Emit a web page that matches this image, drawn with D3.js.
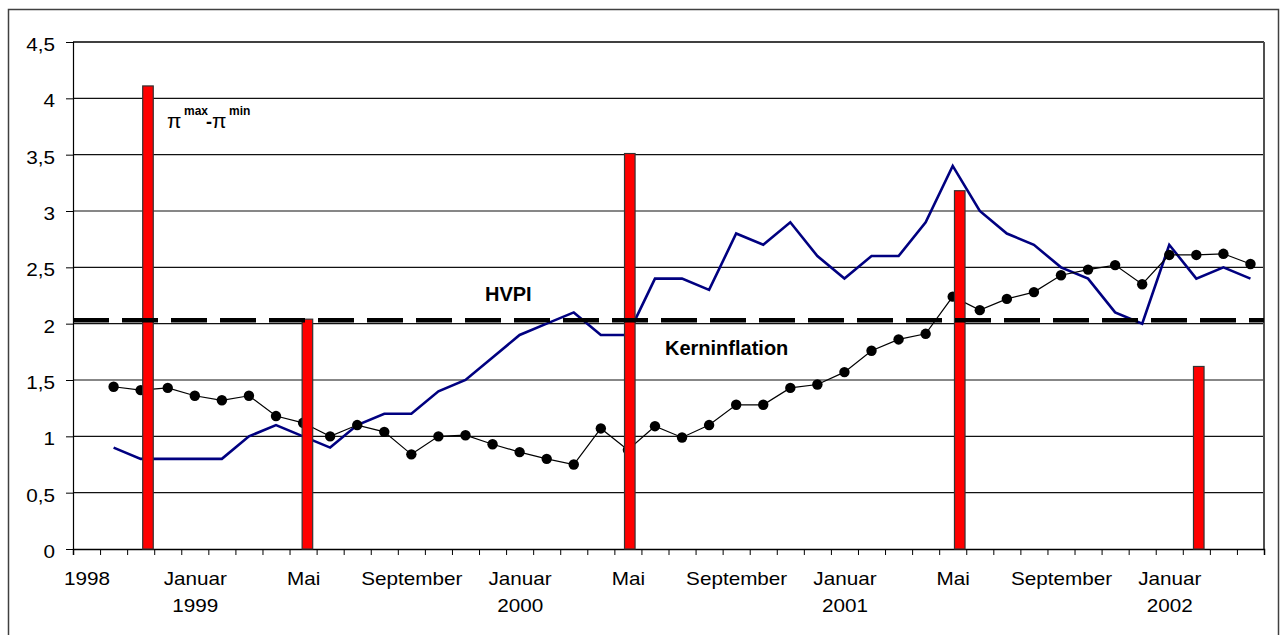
<!DOCTYPE html>
<html>
<head>
<meta charset="utf-8">
<script src="https://cdn.jsdelivr.net/npm/d3@7"></script>
<style>
  html, body { margin: 0; padding: 0; background: #fff; }
  svg { display: block; }
  text { font-family: "Liberation Sans", Arial, sans-serif; fill: #000; }
</style>
</head>
<body>
<svg id="chart" width="1285" height="635"></svg>
<script>
// Monthly categories, September 1998 – April 2002
const categories = [
  "1998-09","1998-10","1998-11","1998-12",
  "1999-01","1999-02","1999-03","1999-04","1999-05","1999-06","1999-07","1999-08","1999-09","1999-10","1999-11","1999-12",
  "2000-01","2000-02","2000-03","2000-04","2000-05","2000-06","2000-07","2000-08","2000-09","2000-10","2000-11","2000-12",
  "2001-01","2001-02","2001-03","2001-04","2001-05","2001-06","2001-07","2001-08","2001-09","2001-10","2001-11","2001-12",
  "2002-01","2002-02","2002-03","2002-04"
];
// HVPI (blue line)
const hvpi = [null, 0.9, 0.8, 0.8, 0.8, 0.8, 1.0, 1.1, 1.0, 0.9, 1.1, 1.2, 1.2, 1.4, 1.5, 1.7,
  1.9, 2.0, 2.1, 1.9, 1.9, 2.4, 2.4, 2.3, 2.8, 2.7, 2.9, 2.6, 2.4, 2.6, 2.6, 2.9,
  3.4, 3.0, 2.8, 2.7, 2.5, 2.4, 2.1, 2.0, 2.7, 2.4, 2.5, 2.4];
// Kerninflation (black line with dots)
const kern = [null, 1.44, 1.41, 1.43, 1.36, 1.32, 1.36, 1.18, 1.12, 1.0, 1.1, 1.04, 0.84, 1.0, 1.01, 0.93,
  0.86, 0.80, 0.75, 1.07, 0.88, 1.09, 0.99, 1.10, 1.28, 1.28, 1.43, 1.46, 1.57, 1.76, 1.86, 1.91,
  2.24, 2.12, 2.22, 2.28, 2.43, 2.48, 2.52, 2.35, 2.61, 2.61, 2.62, 2.53];
// pi_max - pi_min bars: position in months since Sep 1998, and value
const barMonth = [2.77, 8.66, 20.57, 32.76, 41.59];
const barValue = [4.11, 2.04, 3.51, 3.18, 1.62];
// 2% reference line
const targetValue = [2.03];
// axis labels
const yTicks = [0, 0.5, 1, 1.5, 2, 2.5, 3, 3.5, 4, 4.5];
const xLabelCats = ["1998-09","1999-01","1999-05","1999-09","2000-01","2000-05","2000-09","2001-01","2001-05","2001-09","2002-01"];
const xLabelText = ["1998","Januar\n1999","Mai","September","Januar\n2000","Mai","September","Januar\n2001","Mai","September","Januar\n2002"];
const annotations = [{text: "HVPI"}, {text: "Kerninflation"}];

const svg = d3.select("#chart");
const L = 73, R = 1264, T = 42, B = 549;
const SX = 1.15, FS = 18;

const x = d3.scaleLinear().domain([0, categories.length]).range([L, R]);
const y = d3.scaleLinear().domain([0, 4.5]).range([B, T]);

// outer frame
svg.append("rect").attr("x", 8.5).attr("y", 9.5).attr("width", 1270).attr("height", 640)
  .attr("fill", "none").attr("stroke", "#404040").attr("stroke-width", 1.5);

// gridlines
svg.append("g").selectAll("line").data(yTicks.filter(d => d > 0 && d < 4.5)).join("line")
  .attr("x1", L).attr("x2", R).attr("y1", d => y(d)).attr("y2", d => y(d))
  .attr("stroke", "#111").attr("stroke-width", 1.1);
// plot frame top/right
svg.append("line").attr("x1", L).attr("x2", R).attr("y1", T).attr("y2", T).attr("stroke", "#000").attr("stroke-width", 1.5);
svg.append("line").attr("x1", R).attr("x2", R).attr("y1", T).attr("y2", B).attr("stroke", "#505050").attr("stroke-width", 2);

// y axis
const yAxis = svg.append("g").attr("transform", `translate(${L},0)`)
  .call(d3.axisLeft(y).tickValues(yTicks).tickSize(7).tickFormat(d => String(d).replace(".", ",")));
yAxis.select(".domain").attr("stroke", "#000").attr("stroke-width", 1.2);
yAxis.selectAll(".tick line").attr("stroke", "#000");
yAxis.selectAll(".tick text")
  .attr("x", null).attr("dy", null)
  .attr("font-size", FS).attr("font-family", "Liberation Sans, Arial, sans-serif")
  .attr("dominant-baseline", "central")
  .attr("transform", `translate(-18,2) scale(${SX},1)`);

// x axis ticks at category boundaries
const xAxis = svg.append("g").attr("transform", `translate(0,${B})`)
  .call(d3.axisBottom(x).tickValues(d3.range(0, categories.length + 1)).tickSize(6).tickFormat(""));
xAxis.select(".domain").attr("stroke", "#000").attr("stroke-width", 1.5);
xAxis.selectAll(".tick line").attr("stroke", "#000");

// x axis labels at category centres
const xLab = svg.append("g").attr("transform", `translate(0,${B})`)
  .call(d3.axisBottom(x).tickValues(xLabelCats.map(c => categories.indexOf(c) + 0.5)).tickSize(0)
    .tickFormat((d, i) => xLabelText[i]));
xLab.select(".domain").remove();
xLab.selectAll(".tick text").each(function(d, i) {
  const t = d3.select(this);
  const lines = xLabelText[i].split("\n");
  t.text(null).attr("y", null).attr("dy", null)
    .attr("font-size", FS).attr("font-family", "Liberation Sans, Arial, sans-serif")
    .attr("transform", `translate(0,36) scale(${SX},1)`);
  lines.forEach((ln, k) => t.append("tspan").attr("x", 0).attr("y", k * 27).text(ln));
});

// HVPI line
const lineGen = d3.line().defined(d => d.v != null).x(d => x(d.i + 0.5)).y(d => y(d.v));
svg.append("path").datum(hvpi.map((v, i) => ({i, v})))
  .attr("d", lineGen).attr("fill", "none").attr("stroke", "#000080").attr("stroke-width", 2.6)
  .attr("stroke-linejoin", "miter");

// Kerninflation line + markers
const kData = kern.map((v, i) => ({i, v}));
svg.append("path").datum(kData)
  .attr("d", lineGen).attr("fill", "none").attr("stroke", "#000").attr("stroke-width", 1.2);
svg.append("g").selectAll("circle").data(kData.filter(d => d.v != null)).join("circle")
  .attr("cx", d => x(d.i + 0.5)).attr("cy", d => y(d.v)).attr("r", 5.2).attr("fill", "#000");

// bars
const barW = 0.39;
svg.append("g").selectAll("rect").data(barMonth.map((m, k) => ({m, v: barValue[k]}))).join("rect")
  .attr("x", d => x(d.m - barW / 2)).attr("width", d => x(d.m + barW / 2) - x(d.m - barW / 2))
  .attr("y", d => y(d.v)).attr("height", d => y(0) - y(d.v))
  .attr("fill", "#ff0000").attr("stroke", "#333").attr("stroke-width", 1.2);

// dashed reference line
svg.append("g").selectAll("line").data(targetValue).join("line")
  .attr("x1", L).attr("x2", R).attr("y1", d => y(d)).attr("y2", d => y(d))
  .attr("stroke", "#000").attr("stroke-width", 4.5).attr("stroke-dasharray", "36 13");

// annotations
svg.append("text").attr("x", 485).attr("y", 301).attr("font-size", 20).attr("font-weight", "bold")
  .text(annotations[0].text);
svg.append("text").attr("x", 665).attr("y", 355).attr("font-size", 20).attr("font-weight", "bold")
  .text(annotations[1].text);

// pi max - pi min label
const pl = svg.append("g");
pl.append("text").attr("x", 167).attr("y", 128).attr("font-size", 21)
  .attr("font-family", "DejaVu Serif, Liberation Serif, serif").text("π");
pl.append("text").attr("x", 184).attr("y", 115).attr("font-size", 12).attr("font-weight", "bold").text("max");
pl.append("text").attr("x", 206).attr("y", 128).attr("font-size", 18).attr("font-weight", "bold").text("-");
pl.append("text").attr("x", 212).attr("y", 128).attr("font-size", 21)
  .attr("font-family", "DejaVu Serif, Liberation Serif, serif").text("π");
pl.append("text").attr("x", 229).attr("y", 115).attr("font-size", 12).attr("font-weight", "bold").text("min");
</script>
</body>
</html>
